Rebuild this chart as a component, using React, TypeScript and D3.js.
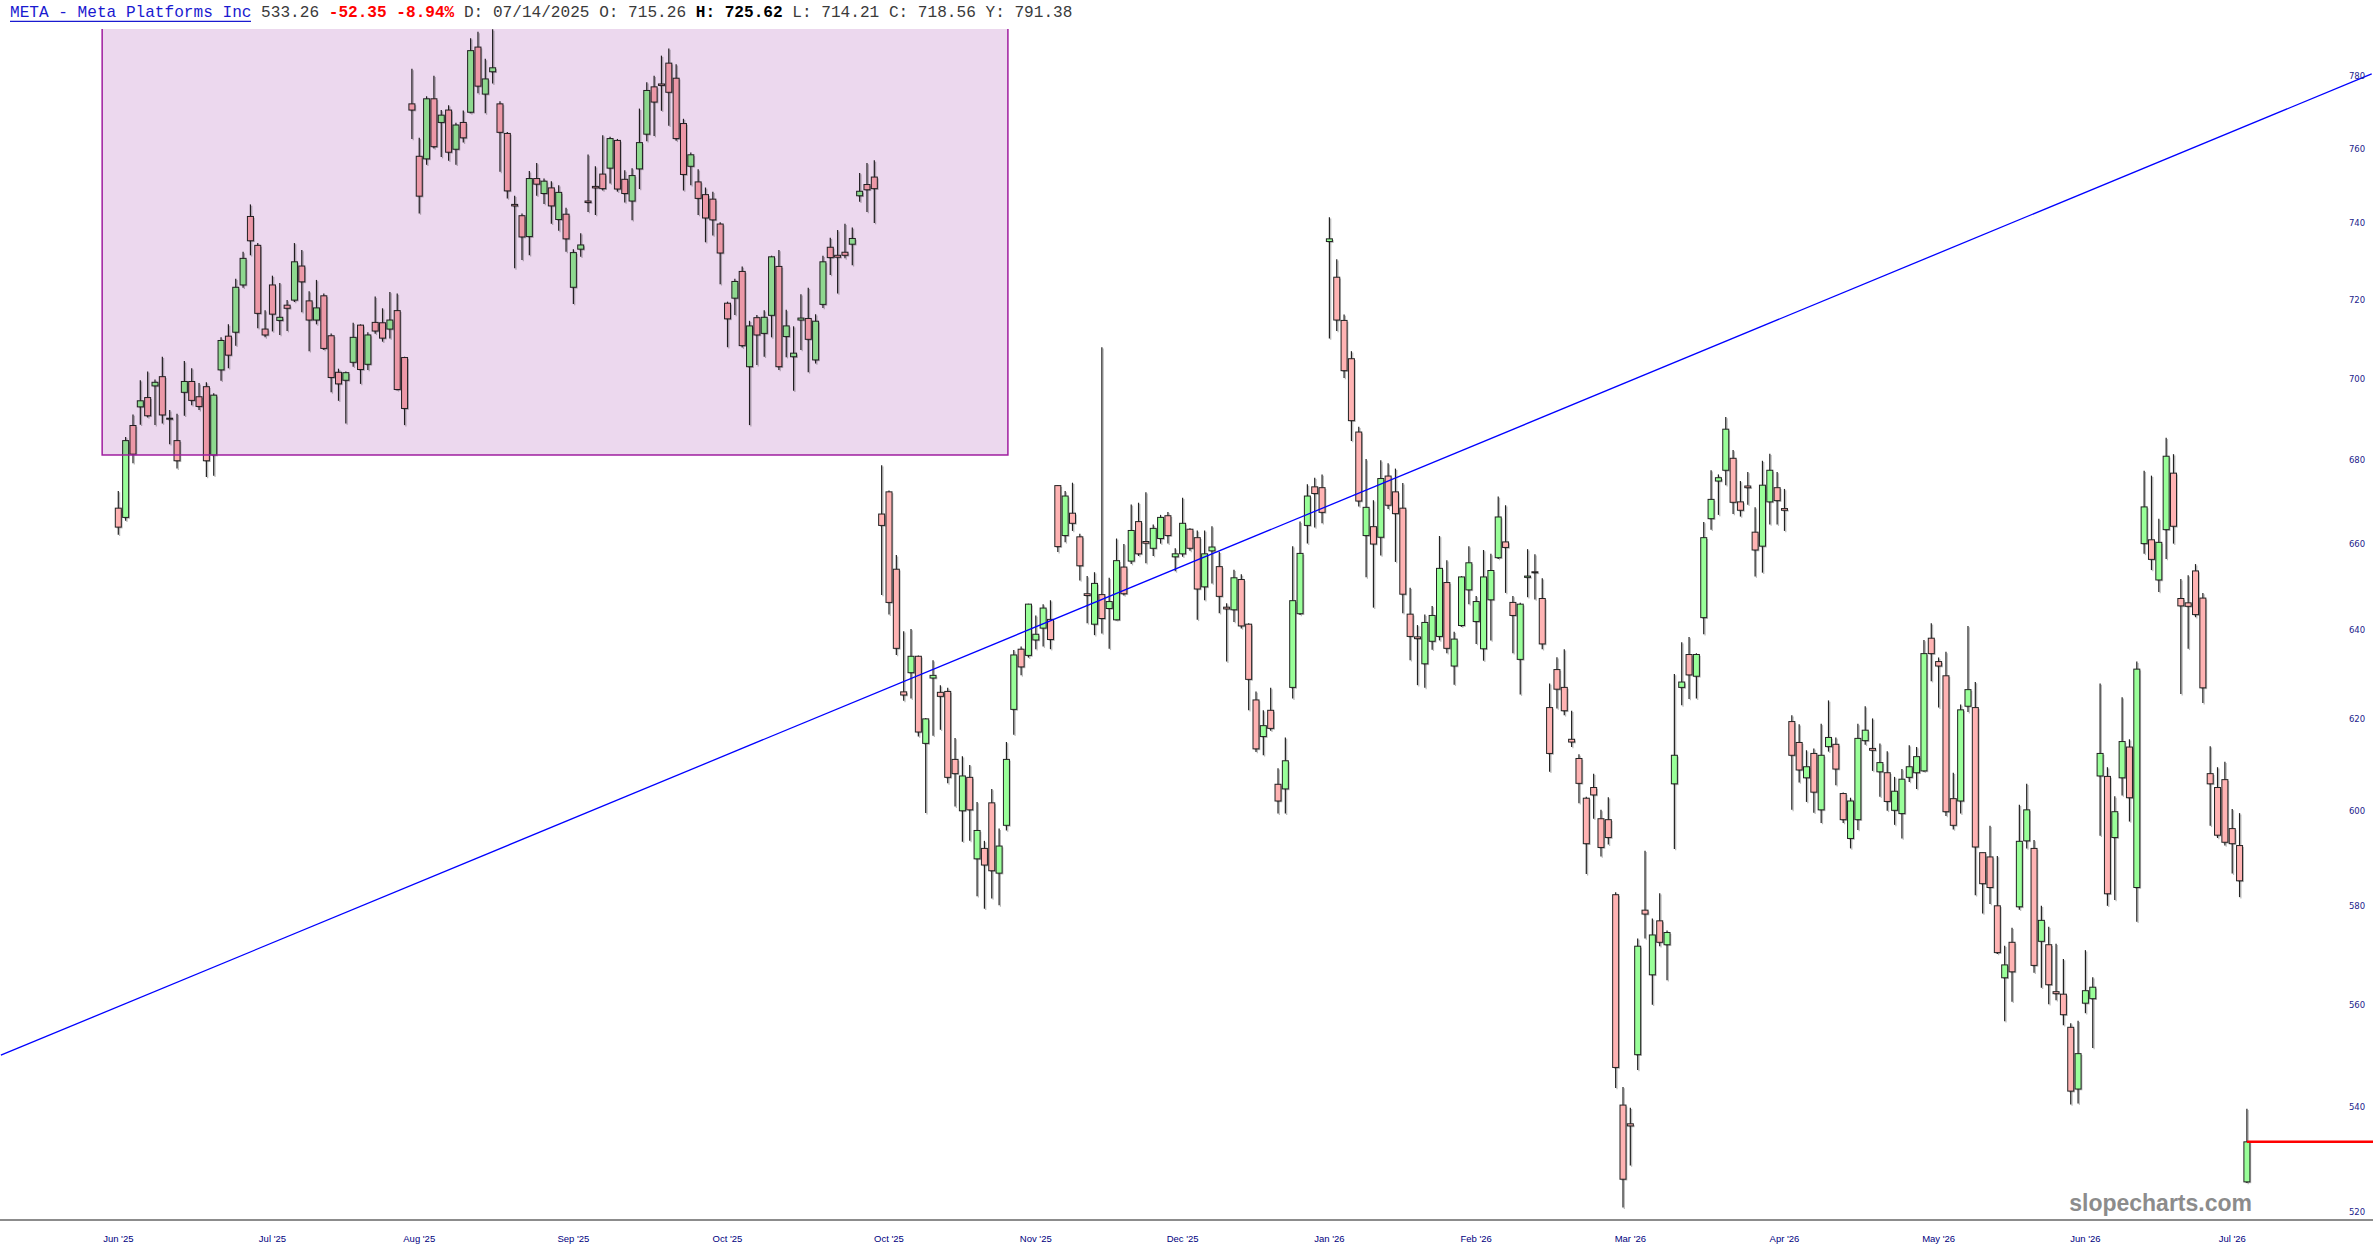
import React from 'react';
import * as d3 from 'd3';

// daily bars (bar 0 = first bar near "Jun '25")
const opens = [
  668.5, 666.3, 688.5, 693.1, 695.4, 698.3, 700.6, 690.3, 684.8, 696.7,
  699.4, 695.6, 698.1, 681.3, 702.3, 710.8, 711.8, 723.9, 741.8, 734.2,
  712.6, 723.9, 714.8, 718.7, 720.0, 728.8, 719.8, 714.9, 721.1, 710.9,
  701.7, 699.7, 704.2, 713.6, 703.7, 714.3, 714.2, 712.6, 717.3, 705.4,
  772.2, 757.9, 757.2, 773.6, 767.1, 770.5, 759.8, 767.1, 769.9, 788.0,
  774.9, 781.1, 772.2, 764.1, 745.0, 742.0, 736.5, 751.9, 747.9, 749.4,
  741.0, 742.4, 723.3, 733.2, 745.9, 749.8, 753.1, 754.7, 762.2, 751.7,
  745.9, 754.5, 763.9, 776.9, 777.7, 783.5, 779.3, 766.8, 755.2, 751.0,
  747.6, 746.4, 739.8, 719.2, 720.5, 727.4, 703.1, 715.5, 711.5, 716.1,
  728.7, 710.7, 705.6, 714.9, 715.3, 704.8, 718.9, 733.7, 731.6, 732.4,
  734.5, 747.3, 750.3, 752.3, 667.1, 672.4, 654.1, 626.1, 630.4, 634.1,
  614.7, 629.2, 626.0, 626.2, 611.2, 600.1, 607.3, 589.9, 592.1, 601.8,
  586.9, 597.0, 622.2, 635.7, 634.3, 637.8, 640.5, 642.5, 673.9, 662.0,
  667.3, 661.7, 648.4, 641.4, 648.2, 645.0, 642.4, 654.6, 656.0, 665.3,
  660.6, 659.0, 661.3, 666.7, 657.0, 657.7, 663.5, 661.5, 650.0, 658.4,
  654.7, 645.3, 644.7, 651.7, 641.4, 624.3, 616.2, 622.0, 605.8, 604.8,
  627.1, 643.8, 664.4, 673.6, 673.4, 735.2, 725.9, 714.8, 705.1, 686.9,
  662.0, 664.1, 661.6, 676.2, 672.4, 668.5, 643.7, 638.5, 632.4, 637.5,
  638.6, 651.0, 631.9, 641.1, 649.3, 642.0, 635.8, 647.0, 656.8, 660.5,
  646.4, 633.4, 652.2, 653.5, 647.3, 622.6, 631.1, 627.1, 615.6, 611.4,
  602.8, 605.1, 598.4, 598.2, 582.4, 540.3, 536.7, 550.1, 579.2, 566.0,
  577.0, 572.1, 605.9, 627.1, 634.5, 629.6, 642.9, 666.0, 675.0, 677.6,
  680.5, 670.0, 673.8, 662.8, 659.5, 670.0, 673.4, 668.4, 619.5, 614.9,
  607.2, 612.5, 600.3, 614.0, 614.5, 603.8, 594.2, 598.2, 615.3, 613.6,
  608.5, 608.3, 600.2, 599.5, 607.3, 608.3, 608.7, 638.2, 632.9, 629.7,
  602.7, 602.2, 622.9, 622.6, 591.2, 590.3, 580.1, 565.4, 572.6, 579.9,
  593.7, 592.1, 572.8, 572.1, 562.6, 562.1, 555.5, 543.4, 560.3, 561.2,
  607.6, 607.5, 594.4, 607.2, 613.9, 583.9, 660.1, 661.0, 651.6, 663.4,
  676.9, 647.3, 646.3, 653.7, 647.4, 608.1, 605.1, 606.8, 596.3, 592.7,
  525.7,
];

const highs = [
  672.6, 685.7, 691.2, 699.7, 701.9, 699.9, 705.6, 692.3, 691.4, 704.5,
  702.7, 699.0, 699.2, 696.5, 710.5, 713.8, 725.5, 732.5, 745.0, 734.8,
  717.4, 726.3, 724.4, 720.0, 734.8, 733.0, 722.3, 725.2, 721.7, 711.5,
  702.6, 701.9, 714.2, 713.8, 711.8, 720.9, 717.9, 722.1, 721.7, 705.6,
  781.9, 762.9, 774.3, 780.0, 770.5, 771.8, 767.0, 770.4, 790.5, 792.3,
  784.7, 793.0, 772.9, 764.5, 747.3, 742.6, 753.9, 756.1, 751.9, 751.2,
  750.1, 744.1, 733.2, 737.4, 758.4, 755.2, 763.6, 763.2, 762.6, 754.1,
  754.7, 770.9, 778.2, 780.0, 785.6, 787.6, 783.2, 768.1, 758.9, 754.4,
  749.5, 748.4, 740.3, 719.6, 725.5, 728.7, 714.7, 716.2, 717.4, 731.5,
  733.0, 717.5, 713.3, 721.5, 723.2, 716.4, 731.5, 736.2, 738.2, 739.9,
  738.9, 753.4, 756.1, 756.8, 678.8, 672.7, 657.4, 639.8, 640.3, 634.3,
  620.3, 633.2, 627.6, 627.0, 615.9, 611.9, 610.0, 602.0, 593.7, 604.8,
  596.3, 615.0, 635.5, 636.3, 646.1, 643.4, 646.0, 646.9, 674.0, 672.6,
  674.6, 662.4, 652.5, 653.4, 708.0, 652.1, 661.3, 660.0, 669.4, 669.8,
  672.3, 664.6, 666.9, 667.6, 659.0, 671.0, 663.7, 663.2, 663.2, 664.2,
  658.2, 646.2, 654.0, 652.9, 641.6, 626.2, 622.0, 627.0, 609.3, 616.0,
  659.5, 665.3, 674.2, 675.8, 676.6, 741.6, 730.6, 716.3, 707.0, 688.2,
  680.3, 670.4, 680.0, 679.3, 678.0, 674.5, 649.8, 641.2, 643.6, 645.6,
  661.9, 656.2, 639.7, 652.5, 659.5, 647.9, 658.6, 657.7, 671.3, 669.2,
  647.9, 646.3, 658.8, 657.6, 652.0, 628.0, 633.9, 635.7, 621.9, 612.3,
  603.1, 608.1, 600.3, 603.0, 582.9, 543.8, 539.8, 573.4, 591.6, 577.5,
  582.7, 575.0, 630.1, 637.3, 638.5, 634.8, 665.2, 677.6, 676.6, 690.6,
  682.5, 675.0, 677.2, 668.7, 679.9, 681.6, 677.2, 673.1, 620.9, 618.9,
  613.2, 613.6, 619.0, 624.2, 616.0, 604.0, 602.9, 619.0, 622.9, 620.2,
  614.7, 613.0, 607.4, 609.1, 614.3, 613.9, 637.8, 641.6, 633.8, 635.1,
  608.3, 623.3, 641.0, 628.3, 591.2, 596.9, 590.5, 571.9, 575.6, 601.4,
  605.9, 593.9, 580.1, 575.8, 572.3, 569.2, 556.3, 556.8, 571.0, 565.5,
  628.0, 609.5, 603.2, 624.9, 615.6, 632.9, 677.5, 676.3, 666.0, 685.5,
  681.5, 651.8, 652.7, 655.3, 648.6, 614.1, 609.5, 610.7, 600.5, 599.6,
  539.6,
];

const lows = [
  662.2, 665.5, 679.3, 688.7, 690.5, 688.6, 689.0, 683.9, 678.0, 690.9,
  693.5, 692.3, 676.0, 676.3, 699.6, 702.7, 708.4, 723.2, 731.6, 712.8,
  710.5, 712.0, 711.1, 712.1, 719.5, 716.9, 707.0, 713.8, 707.3, 696.7,
  694.6, 689.0, 703.1, 698.8, 702.3, 711.4, 709.4, 710.2, 697.2, 688.6,
  762.6, 742.6, 755.6, 760.0, 757.7, 756.7, 755.6, 761.6, 769.6, 775.1,
  769.6, 777.8, 753.7, 746.6, 728.2, 730.4, 731.6, 747.3, 745.1, 739.9,
  738.0, 732.5, 719.0, 731.2, 743.0, 742.2, 748.7, 750.6, 748.4, 745.5,
  740.8, 749.1, 762.0, 763.4, 770.3, 766.2, 762.1, 748.7, 750.1, 742.2,
  735.0, 736.8, 724.1, 708.0, 716.2, 707.9, 688.6, 703.5, 705.6, 710.5,
  702.3, 705.5, 697.1, 707.3, 701.7, 703.9, 718.0, 726.5, 721.7, 730.8,
  729.0, 745.7, 743.0, 740.1, 648.1, 643.6, 634.4, 624.1, 624.6, 616.2,
  599.6, 616.4, 617.7, 606.0, 601.0, 593.5, 593.7, 582.1, 579.5, 581.6,
  580.2, 595.9, 616.6, 629.8, 633.8, 635.7, 636.3, 635.7, 658.1, 660.4,
  663.1, 651.5, 641.6, 638.9, 639.3, 635.8, 642.3, 648.0, 655.3, 657.2,
  655.5, 657.2, 660.1, 660.1, 653.6, 657.0, 658.4, 642.4, 646.9, 650.8,
  643.9, 632.9, 641.9, 640.4, 622.0, 612.8, 612.1, 617.5, 599.5, 599.5,
  624.6, 643.5, 660.1, 663.9, 664.9, 710.2, 712.1, 700.3, 684.7, 668.9,
  652.2, 645.2, 657.3, 668.3, 655.8, 643.9, 633.2, 627.6, 627.0, 635.6,
  637.7, 634.8, 627.7, 640.8, 646.0, 636.9, 633.1, 637.7, 656.5, 648.6,
  634.8, 625.5, 647.6, 647.1, 635.7, 608.5, 622.4, 620.9, 613.9, 601.7,
  586.7, 598.4, 590.4, 592.9, 543.6, 520.9, 528.8, 547.1, 573.4, 560.0,
  571.8, 564.9, 592.0, 623.1, 624.5, 624.6, 639.1, 663.4, 666.9, 674.0,
  667.1, 666.5, 669.3, 652.4, 653.3, 664.6, 664.6, 663.1, 600.3, 606.2,
  602.0, 599.7, 597.5, 612.9, 605.6, 597.5, 592.1, 596.0, 614.4, 608.7,
  603.1, 600.1, 597.1, 594.2, 606.3, 604.8, 608.5, 628.5, 622.6, 599.0,
  596.1, 599.5, 621.6, 582.3, 578.5, 580.5, 570.2, 556.7, 560.6, 579.3,
  592.1, 566.4, 563.4, 560.1, 560.9, 555.9, 540.4, 540.6, 558.3, 551.4,
  594.8, 580.1, 581.3, 603.4, 597.8, 576.8, 657.7, 653.9, 648.8, 656.5,
  660.1, 625.6, 635.8, 643.0, 623.6, 596.9, 594.3, 592.7, 586.8, 581.9,
  525.5,
];

const closes = [
  664.0, 684.8, 681.5, 694.6, 690.9, 699.2, 691.1, 690.1, 679.9, 699.4,
  694.7, 693.2, 679.9, 696.0, 709.7, 706.0, 723.3, 730.8, 735.4, 716.6,
  711.1, 716.4, 715.6, 717.9, 729.9, 724.7, 714.9, 718.0, 707.7, 700.4,
  698.8, 701.6, 710.5, 702.4, 711.1, 712.1, 710.3, 714.9, 697.4, 692.7,
  770.5, 747.2, 773.6, 760.5, 769.1, 759.0, 766.4, 762.9, 787.0, 777.1,
  779.1, 782.2, 764.4, 748.6, 744.6, 736.4, 751.9, 750.4, 751.2, 744.6,
  748.2, 735.9, 732.3, 734.3, 745.5, 749.4, 749.2, 762.7, 749.1, 747.9,
  752.7, 761.6, 775.9, 772.7, 777.3, 775.4, 762.7, 753.0, 758.3, 746.6,
  741.4, 740.9, 732.2, 715.2, 724.8, 708.4, 713.4, 711.1, 715.6, 731.2,
  703.1, 713.4, 706.5, 715.4, 710.0, 714.6, 729.9, 731.0, 731.1, 731.6,
  736.0, 748.5, 748.9, 749.2, 664.4, 646.4, 635.9, 625.4, 634.1, 617.2,
  620.1, 629.8, 625.1, 607.3, 608.1, 607.6, 600.3, 595.9, 588.6, 587.4,
  592.6, 611.2, 634.4, 631.7, 646.0, 639.1, 645.1, 637.9, 659.4, 671.4,
  664.9, 654.9, 648.0, 650.8, 642.7, 646.6, 656.1, 648.4, 663.2, 657.7,
  660.2, 663.7, 666.3, 662.0, 657.7, 664.9, 659.0, 649.5, 657.7, 659.3,
  647.8, 644.9, 652.1, 641.0, 628.9, 613.5, 618.6, 618.0, 602.2, 610.9,
  646.8, 657.8, 671.4, 672.0, 667.5, 735.9, 714.9, 702.1, 689.7, 670.2,
  668.7, 660.0, 675.6, 669.2, 667.2, 648.3, 638.6, 638.1, 641.8, 643.4,
  654.3, 635.9, 638.0, 652.3, 655.6, 646.6, 652.3, 653.8, 666.4, 659.2,
  643.4, 646.0, 652.5, 653.3, 636.9, 612.5, 626.7, 621.9, 615.0, 606.0,
  593.1, 603.5, 592.3, 594.4, 547.6, 526.2, 536.3, 571.8, 578.4, 574.1,
  572.6, 574.6, 612.1, 628.3, 629.9, 634.5, 661.5, 670.6, 675.8, 687.6,
  669.9, 668.0, 673.4, 658.6, 674.0, 677.6, 670.3, 668.0, 612.1, 608.9,
  609.6, 604.1, 612.1, 616.0, 609.1, 598.2, 602.2, 615.8, 617.6, 613.2,
  610.5, 602.1, 604.3, 606.9, 609.6, 611.8, 634.7, 634.7, 631.9, 599.9,
  597.0, 622.1, 626.6, 592.4, 584.7, 583.9, 570.5, 568.0, 566.6, 593.6,
  600.3, 567.9, 577.1, 564.0, 562.2, 558.0, 543.0, 550.3, 562.8, 563.5,
  612.5, 582.6, 599.9, 615.1, 602.9, 631.2, 668.8, 656.4, 660.4, 681.0,
  664.2, 645.6, 645.5, 643.6, 627.0, 605.9, 594.9, 593.4, 593.1, 585.3,
  533.26,
];

const monthLabels = [
  "Jun '25", "Jul '25", "Aug '25", "Sep '25", "Oct '25", "Oct '25", "Nov '25", "Dec '25",
  "Jan '26", "Feb '26", "Mar '26", "Apr '26", "May '26", "Jun '26", "Jul '26",
];
const monthBars = [0, 21, 41, 62, 83, 105, 125, 145, 165, 185, 206, 227, 248, 268, 288];

const priceTicks = [520, 540, 560, 580, 600, 620, 640, 660, 680, 700, 720, 740, 760, 780];

// drawn annotations, in [bar, price]
const trendFrom = [-16, 550];
const trendTo = [307, 780.5];
const boxFrom = [-2.2, 800];
const boxTo = [121.2, 681.3];
const lastPrice = 533.26;

const W = 2373;
const H = 1260;
const plotTop = 29;
const plotBottom = 1220;

export default function App() {
  const x = d3.scaleLinear().domain([0, 290]).range([118.3, 2246.9]);
  const y = d3.scaleLog().domain([518.6, 793.1]).range([plotBottom, plotTop]);

  const bw = 6;
  const sh = 1.3; // shadow offset

  const candles = opens.map((o, i) => {
    const c = closes[i];
    const up = c >= o;
    const cx = x(i);
    const top = y(Math.max(o, c));
    const bot = y(Math.min(o, c));
    const h = Math.max(bot - top, 1);
    return (
      <g key={i}>
        <line x1={cx + sh} x2={cx + sh} y1={y(highs[i]) + sh} y2={y(lows[i]) + sh}
          stroke="#8a8a8a" strokeOpacity={0.6} strokeWidth={1.2} />
        <rect x={cx - bw / 2 + sh} y={top + sh} width={bw} height={h}
          fill="#8a8a8a" fillOpacity={0.6} />
        <line x1={cx} x2={cx} y1={y(highs[i])} y2={y(lows[i])}
          stroke="#222" strokeWidth={1.2} />
        <rect x={cx - bw / 2} y={top} width={bw} height={h}
          fill={up ? '#99ff99' : '#ffb3b3'} stroke="#222" strokeWidth={1} />
      </g>
    );
  });

  const bx0 = x(boxFrom[0]);
  const bx1 = x(boxTo[0]);
  const by0 = y(boxFrom[1]);
  const by1 = y(boxTo[1]);

  return (
    <div style={{ position: 'absolute', left: 0, top: 0, background: '#fff' }}>
      <svg width={W} height={H} viewBox={`0 0 ${W} ${H}`} style={{ display: 'block' }}>
        <defs>
          <clipPath id="plot">
            <rect x={0} y={plotTop} width={W} height={plotBottom - plotTop} />
          </clipPath>
        </defs>
        <rect x={0} y={0} width={W} height={H} fill="#fff" />

        <g clipPath="url(#plot)">
          {candles}
          <rect x={bx0} y={by0} width={bx1 - bx0} height={by1 - by0}
            fill="#ecd8ee" style={{ mixBlendMode: 'multiply' }} />
          <rect x={bx0} y={by0} width={bx1 - bx0} height={by1 - by0}
            fill="none" stroke="#a01ea0" strokeWidth={1.5} />
          <line x1={x(trendFrom[0])} y1={y(trendFrom[1])} x2={x(trendTo[0])} y2={y(trendTo[1])}
            stroke="#0000ff" strokeWidth={1.3} />
          <line x1={x(290)} x2={W} y1={y(lastPrice)} y2={y(lastPrice)}
            stroke="#ff0000" strokeWidth={2.5} />
        </g>

        <line x1={0} x2={W} y1={plotBottom} y2={plotBottom} stroke="#8c8c8c" strokeWidth={2} />

        {priceTicks.map((p) => (
          <text key={p} x={2357} y={y(p)} textAnchor="middle" dominantBaseline="central"
            fontFamily="'DejaVu Sans', sans-serif" fontSize={8.5} fill="#1c1c8c">
            {p}
          </text>
        ))}

        {monthLabels.map((m, k) => (
          <text key={k} x={x(monthBars[k])} y={1242} textAnchor="middle"
            fontFamily="'Liberation Sans', sans-serif" fontSize={9.5} fill="#000080">
            {m}
          </text>
        ))}

        <text x={2252} y={1211} textAnchor="end" fontFamily="'Liberation Sans', Arial, sans-serif"
          fontWeight="bold" fontSize={23} fill="#8c8c8c">
          slopecharts.com
        </text>

        <text x={10} y={17} fontFamily="'Liberation Mono', monospace" fontSize={16.1}
          xmlSpace="preserve" style={{ whiteSpace: 'pre' }} fill="#3a3a3a">
          <tspan fill="#1a1ad0">META - Meta Platforms Inc</tspan>
          <tspan> 533.26 </tspan>
          <tspan fill="#ff0000" fontWeight="bold">-52.35 -8.94%</tspan>
          <tspan> D: 07/14/2025 O: 715.26 </tspan>
          <tspan fill="#000" fontWeight="bold">H: 725.62</tspan>
          <tspan> L: 714.21 C: 718.56 Y: 791.38</tspan>
        </text>
        <line x1={10} x2={251} y1={21.3} y2={21.3} stroke="#1a1ad0" strokeWidth={1.2} />
      </svg>
    </div>
  );
}
